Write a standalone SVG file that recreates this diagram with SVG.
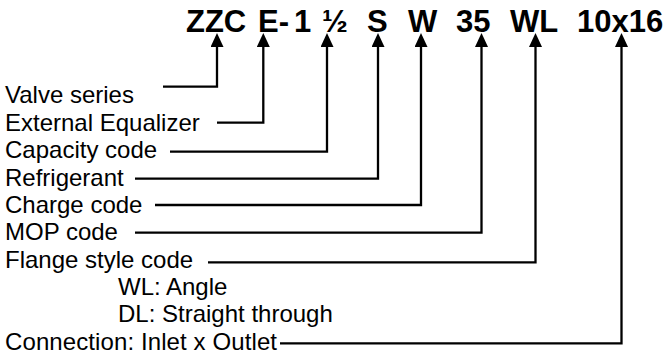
<svg xmlns="http://www.w3.org/2000/svg" width="668" height="356" viewBox="0 0 668 356">
<style>
.t{font-family:"Liberation Sans",Arial,sans-serif;font-size:31px;font-weight:bold;fill:#000}
.l{font-family:"Liberation Sans",Arial,sans-serif;font-size:24px;fill:#000}
.c{fill:none;stroke:#000;stroke-width:2.3;marker-end:url(#ah)}
</style>
<defs>
<marker id="ah" markerUnits="userSpaceOnUse" viewBox="0 0 14 13" markerWidth="14" markerHeight="13" refX="7" refY="6.5" orient="auto">
<path d="M0,0 L14,6.5 L0,13 Z" fill="#000"/>
</marker>
</defs>
<rect width="668" height="356" fill="#fff"/>
<g id="code">
<text class="t" x="186" y="32">ZZC</text>
<text class="t" x="258" y="32">E-</text>
<text class="t" x="294" y="32">1</text>
<text class="t" x="322" y="32">½</text>
<text class="t" x="367" y="32">S</text>
<text class="t" x="408" y="32">W</text>
<text class="t" x="456" y="32">35</text>
<text class="t" x="510" y="32">WL</text>
<text class="t" x="577" y="32">10x16</text>
</g>
<g id="n1"><text class="l" x="5" y="103">Valve series</text></g>
<g id="n2"><text class="l" x="5" y="130.5">External Equalizer</text></g>
<g id="n3"><text class="l" x="5" y="158">Capacity code</text></g>
<g id="n4"><text class="l" x="5" y="185.5">Refrigerant</text></g>
<g id="n5"><text class="l" x="5" y="212.5">Charge code</text></g>
<g id="n6"><text class="l" x="5" y="240">MOP code</text></g>
<g id="n7"><text class="l" x="5" y="267.5">Flange style code</text>
<text class="l" x="118" y="295">WL: Angle</text>
<text class="l" x="118" y="322">DL: Straight through</text></g>
<g id="n8"><text class="l" x="5" y="349.5" textLength="272">Connection: Inlet x Outlet</text></g>
<g id="connectors">
<path class="c" d="M163,86.7 H217 V40"/>
<path class="c" d="M217,122.7 H263.3 V40"/>
<path class="c" d="M170,151.7 H327 V40"/>
<path class="c" d="M135,178.7 H378 V40"/>
<path class="c" d="M155,205 H421 V40"/>
<path class="c" d="M135,232.7 H481.5 V40"/>
<path class="c" d="M208,262.3 H535.5 V40"/>
<path class="c" d="M280,343.3 H621.5 V40"/>
</g>
</svg>
